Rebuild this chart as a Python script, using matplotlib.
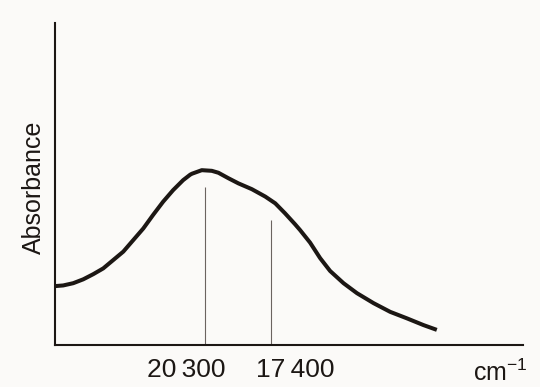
import numpy as np
import matplotlib.pyplot as plt
import matplotlib.transforms as mtransforms

plt.rcParams['font.family'] = ['Liberation Sans', 'DejaVu Sans']
plt.rcParams['mathtext.fontset'] = 'custom'
plt.rcParams['mathtext.rm'] = 'Liberation Sans'
plt.rcParams['mathtext.it'] = 'Liberation Sans'

# spectrum (wavenumber in cm-1, absorbance in arbitrary units)
wavenumber = [26890, 26540, 26100, 25660, 25220, 24780, 24340, 23900, 23460,
              23020, 22590, 22150, 21710, 21270, 20960, 20880, 20450, 20010,
              19720, 19280, 18840, 18250, 17660, 17220, 16790, 16350, 16130,
              15690, 15250, 14810, 14220, 13630, 12900, 12170, 11440, 10710,
              10120]
absorbance = [0.183, 0.185, 0.192, 0.204, 0.220, 0.238, 0.264, 0.290, 0.326,
              0.362, 0.404, 0.445, 0.481, 0.512, 0.529, 0.532, 0.543, 0.541,
              0.535, 0.518, 0.502, 0.484, 0.461, 0.440, 0.409, 0.375, 0.357,
              0.318, 0.270, 0.230, 0.192, 0.161, 0.130, 0.103, 0.083, 0.062,
              0.047]

# band positions and the heights of their marker lines
bands = [20300, 17400]
band_heights = [0.491, 0.388]
band_labels = ['20\u2009300', '17\u2009400']

ink = '#1c1714'

fig = plt.figure(figsize=(5.4, 3.87), dpi=100, facecolor='#fbfaf8')
ax = fig.add_axes([0.1019, 0.1085, 0.8667, 0.832])
ax.set_facecolor('#fbfaf8')

ax.plot(wavenumber, absorbance, color=ink, lw=2.9,
        solid_joinstyle='round', solid_capstyle='butt')
ax.vlines(bands, 0, band_heights, color='#6b6460', lw=0.8)

ax.set_xlim(26900, 6330)
ax.set_ylim(0, 1)

for s in ['top', 'right']:
    ax.spines[s].set_visible(False)
for s in ['left', 'bottom']:
    ax.spines[s].set_color(ink)
    ax.spines[s].set_linewidth(1.5)
ax.set_xticks([])
ax.set_yticks([])

# labels sit a little apart from their lines, as in the printed figure
label_shift = [-19, 24]
blend = mtransforms.blended_transform_factory(ax.transData, ax.transAxes)
for b, lab, dx in zip(bands, band_labels, label_shift):
    tr = mtransforms.offset_copy(blend, fig=fig, x=dx, y=0, units='dots')
    ax.text(b, -0.078, lab, transform=tr, ha='center', va='center',
            fontsize=19, color=ink)

ax.text(0.951, -0.087, 'cm$^{-1}$', transform=ax.transAxes,
        ha='center', va='center', fontsize=18, color=ink)
ax.text(-0.045, 0.49, 'Absorbance', transform=ax.transAxes, rotation=90,
        ha='center', va='center', fontsize=18, color=ink)

fig.savefig('out.png', dpi=100, facecolor=fig.get_facecolor())
